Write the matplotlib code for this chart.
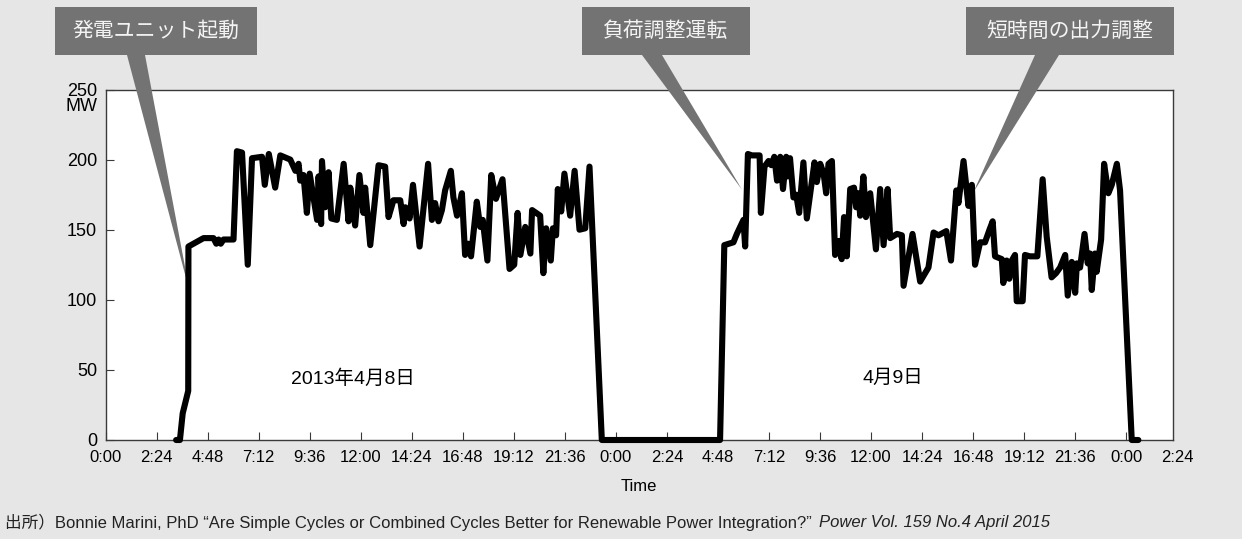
import matplotlib
matplotlib.use('Agg')
import matplotlib.pyplot as plt
from matplotlib.patches import Rectangle, Polygon

# 2013/4/8 0:00 からの経過時間(h) と 出力(MW)
hours = [3.32, 3.50, 3.63, 3.89, 3.90, 4.14, 4.61, 5.08, 5.21, 5.32, 5.42, 5.55, 6.02,
         6.18, 6.42, 6.69, 6.89, 7.36, 7.49, 7.68, 7.98, 8.22, 8.69, 8.93, 9.08, 9.16,
         9.31, 9.47, 9.60, 9.95, 10.02, 10.14, 10.18, 10.33, 10.49, 10.62, 10.88, 11.20,
         11.43, 11.51, 11.74, 11.94, 12.13, 12.21, 12.45, 12.84, 13.15, 13.31, 13.54,
         13.86, 14.02, 14.10, 14.30, 14.46, 14.77, 15.17, 15.35, 15.50, 15.66, 15.82,
         15.97, 16.24, 16.36, 16.53, 16.76, 16.91, 17.06, 17.19, 17.46, 17.62, 17.74,
         17.96, 18.14, 18.36, 18.67, 19.00, 19.22, 19.38, 19.51, 19.74, 19.98, 20.06,
         20.44, 20.59, 20.72, 20.94, 21.04, 21.19, 21.27, 21.43, 21.58, 21.85, 22.06,
         22.29, 22.56, 22.76, 23.34,
         28.90, 29.10, 29.53, 29.69, 30.00, 30.08, 30.21, 30.40, 30.76, 30.82, 30.99,
         31.18, 31.31, 31.45, 31.58, 31.73, 31.86, 32.01, 32.07, 32.19, 32.35, 32.48,
         32.62, 32.82, 32.98, 33.34, 33.45, 33.61, 33.77, 33.89, 34.00, 34.16, 34.31,
         34.46, 34.62, 34.73, 34.86, 35.02, 35.20, 35.30, 35.41, 35.49, 35.64, 35.76,
         35.96, 36.23, 36.43, 36.59, 36.78, 36.90, 37.22, 37.45, 37.53, 37.95, 38.31,
         38.70, 38.94, 39.17, 39.54, 39.76, 40.01, 40.11, 40.35, 40.58, 40.74, 40.89,
         41.13, 41.36, 41.57, 41.72, 41.83, 42.15, 42.22, 42.38, 42.50, 42.62, 42.77,
         42.85, 43.13, 43.24, 43.47, 43.82, 44.07, 44.26, 44.49, 44.70, 44.89, 45.13,
         45.25, 45.44, 45.60, 45.68, 45.83, 46.04, 46.19, 46.30, 46.38, 46.53, 46.61,
         46.82, 46.96, 47.16, 47.32, 47.56, 47.71, 48.26, 48.57]
mw = [0, 0, 19, 35, 138, 140, 144, 144, 140, 143, 140, 143, 143,
      206, 205, 125, 201, 202, 182, 204, 180, 203, 200, 192, 197, 185,
      189, 162, 190, 157, 188, 154, 199, 166, 191, 158, 157, 197,
      156, 180, 153, 189, 162, 180, 139, 196, 195, 159, 171,
      171, 154, 166, 158, 182, 138, 197, 157, 169, 156, 164,
      178, 192, 173, 160, 176, 132, 140, 131, 170, 152, 157,
      128, 189, 172, 186, 122, 125, 162, 132, 152, 133, 164,
      160, 119, 151, 128, 151, 146, 179, 163, 190, 160, 192,
      150, 151, 195, 0,
      0, 139, 141, 147, 157, 138, 204, 203, 203, 162, 195,
      199, 196, 202, 185, 202, 179, 202, 188, 201, 173, 175,
      162, 198, 158, 198, 184, 197, 190, 176, 197, 199, 132,
      142, 129, 159, 131, 179, 180, 166, 176, 160, 188, 159,
      176, 136, 179, 139, 179, 144, 147, 146, 110, 147, 113,
      123, 148, 146, 149, 128, 178, 169, 199, 167, 182, 125,
      141, 141, 150, 156, 131, 129, 112, 128, 115, 128, 132,
      99, 99, 132, 131, 131, 186, 145, 116, 119, 123, 132,
      103, 127, 105, 126, 123, 147, 126, 133, 107, 133, 120,
      143, 197, 176, 182, 197, 178, 0, 0]

xtick_hours = [i * 2.4 for i in range(21)]
xtick_labels = ['0:00', '2:24', '4:48', '7:12', '9:36', '12:00', '14:24', '16:48',
                '19:12', '21:36'] * 2 + ['0:00']
last_tick_hour = 50.4
last_tick_label = '2:24'
ytick_vals = [0, 50, 100, 150, 200, 250]

date_labels = ['2013年4月8日', '4月9日']
date_pos_h = [11.64, 37.04]
date_pos_mw = [44, 44]

callout_texts = ['発電ユニット起動', '負荷調整運転', '短時間の出力調整']
callout_tip_h = [3.97, 29.93, 40.80]
callout_tip_mw = [105, 178.6, 176.4]

source_main = '出所）Bonnie Marini, PhD “Are Simple Cycles or Combined Cycles Better for Renewable Power Integration?”'
source_ital = 'Power Vol. 159 No.4 April 2015'

W, H = 1242, 539
BG = '#e6e6e6'
GRAY = '#737373'
narrow = ['Liberation Sans Narrow', 'Liberation Sans', 'Noto Sans CJK JP']
jp = ['Liberation Sans', 'Noto Sans CJK JP']

fig = plt.figure(figsize=(W / 100, H / 100), dpi=100, facecolor=BG)
ax = fig.add_axes([105.5 / W, 1 - 440 / H, (1173 - 105.5) / W, (440 - 89.5) / H])
ax.set_facecolor('white')
ax.set_xlim(0, 50.2)
ax.set_ylim(0, 250)

ax.plot(hours, mw, color='black', lw=4.4, solid_joinstyle='round',
        solid_capstyle='round', zorder=4, clip_on=False)

for s in ax.spines.values():
    s.set_color('#3a3a3a')
    s.set_linewidth(1.0)

ax.set_xticks(xtick_hours)
ax.set_xticklabels(xtick_labels, family=narrow, fontsize=12)
ax.set_yticks(ytick_vals)
ax.set_yticklabels([str(v) for v in ytick_vals], family=jp, fontsize=13)
ax.tick_params(axis='both', direction='in', length=6, width=0.8, color='#3a3a3a')
ax.tick_params(axis='x', pad=7.5)
ax.tick_params(axis='y', pad=6)

ax.annotate(last_tick_label, xy=(last_tick_hour, 0), xycoords=('data', 'axes fraction'),
            xytext=(0, -7.5), textcoords='offset points', ha='center', va='top',
            family=narrow, fontsize=12, annotation_clip=False)
ax.annotate('MW', xy=(0, 250), xycoords='data', xytext=(-8, -17),
            textcoords='offset pixels', ha='right', va='center',
            family=jp, fontsize=13, annotation_clip=False)
ax.set_xlabel('Time', family=narrow, fontsize=12, labelpad=10)

for txt, h, v in zip(date_labels, date_pos_h, date_pos_mw):
    ax.text(h, v, txt, ha='center', va='center', family=jp, fontsize=14)

# 吹き出し (図のピクセル座標, 上基準)
boxes = [(55, 7, 257, 55), (582, 7, 750, 55), (966, 7, 1174, 55)]
bases = [(127, 145), (642, 662), (1035, 1059)]
inv = fig.transFigure.inverted()
for txt, (x0, y0, x1, y1), (b0, b1), th, tv in zip(callout_texts, boxes, bases,
                                                  callout_tip_h, callout_tip_mw):
    fig.add_artist(Rectangle((x0 / W, 1 - y1 / H), (x1 - x0) / W, (y1 - y0) / H,
                             transform=fig.transFigure, facecolor=GRAY, edgecolor='none'))
    tip = inv.transform(ax.transData.transform((th, tv)))
    tri = Polygon([(b0 / W, 1 - y1 / H), (b1 / W, 1 - y1 / H), tuple(tip)], closed=True,
                  transform=fig.transFigure, facecolor=GRAY, edgecolor='none',
                  clip_on=False, zorder=3)
    ax.add_patch(tri)
    fig.text((x0 + x1) / 2 / W, 1 - (y0 + y1) / 2 / H, txt, ha='center', va='center',
             color='#f4f4f4', fontsize=15, family=['Noto Sans CJK JP'])

t1 = fig.text(5 / W, 1 - 522 / H, source_main, ha='left', va='center',
              family=narrow, fontsize=12, color='#222222')
fig.canvas.draw()
bb = t1.get_window_extent()
fig.text((bb.x1 + 7) / W, 1 - 522 / H, source_ital, ha='left', va='center',
         family=narrow, fontsize=12, style='italic', color='#222222')

fig.savefig('out.png', dpi=100, facecolor=BG)
